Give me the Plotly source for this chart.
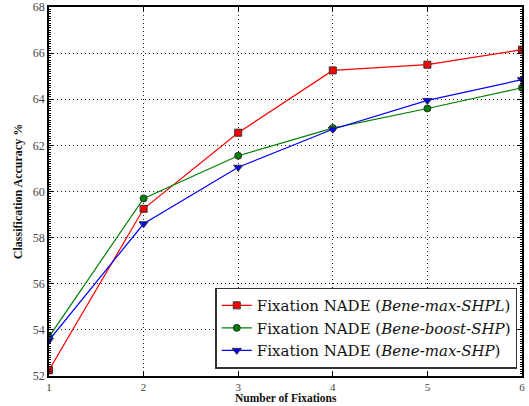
import plotly.graph_objects as go

fixations = [1, 2, 3, 4, 5, 6]
shpl = [52.25, 59.25, 62.55, 65.25, 65.5, 66.15]
boost_shp = [53.7, 59.7, 61.55, 62.75, 63.6, 64.5]
max_shp = [53.55, 58.6, 61.05, 62.7, 63.95, 64.85]

names = [
    "Fixation NADE (<i>Bene-max-SHPL</i>)",
    "Fixation NADE (<i>Bene-boost-SHP</i>)",
    "Fixation NADE (<i>Bene-max-SHP</i>)",
]
y_ticks = [52, 54, 56, 58, 60, 62, 64, 66, 68]

font_fam = "Liberation Serif, DejaVu Serif, serif"

fig = go.Figure()
fig.add_trace(go.Scatter(x=fixations, y=shpl, mode="lines+markers", name=names[0],
                         line=dict(color="#ff0000", width=1.2),
                         marker=dict(symbol="square", size=7, color="#ff0000",
                                     line=dict(color="#333333", width=1))))
fig.add_trace(go.Scatter(x=fixations, y=boost_shp, mode="lines+markers", name=names[1],
                         line=dict(color="#008000", width=1.2),
                         marker=dict(symbol="circle", size=7, color="#008000",
                                     line=dict(color="#333333", width=1))))
fig.add_trace(go.Scatter(x=fixations, y=max_shp, mode="lines+markers", name=names[2],
                         line=dict(color="#0000ff", width=1.2),
                         marker=dict(symbol="triangle-down", size=8, color="#0000ff",
                                     line=dict(color="#333333", width=1))))

fig.update_layout(
    width=529, height=406,
    margin=dict(l=49, r=7, t=7, b=30, autoexpand=False),
    paper_bgcolor="white", plot_bgcolor="white",
    font=dict(family=font_fam, color="#222222", size=11),
    showlegend=True,
    legend=dict(x=0.99, y=0.02, xanchor="right", yanchor="bottom",
                bgcolor="white", bordercolor="#333333", borderwidth=1.5,
                font=dict(size=15, color="#111111", family="DejaVu Serif, serif"),
                tracegroupgap=0, itemwidth=30),
    annotations=[dict(text="<b>Number of Fixations</b>", xref="paper", yref="paper",
                      x=0.5, y=0, xanchor="center", yanchor="top", yshift=-15,
                      borderpad=0,
                      showarrow=False, font=dict(size=11.5, color="#111111", family=font_fam))],
)
fig.update_xaxes(range=[0.9999, 6.0001], tickmode="array", tickvals=fixations,
                 ticktext=[str(v) for v in fixations], automargin=False,
                 showgrid=True, gridcolor="#222222", griddash="1px,3px", gridwidth=1,
                 showline=True, linecolor="#000000", linewidth=1.5, mirror="ticks",
                 ticks="inside", ticklen=4, tickcolor="#000000",
                 tickfont=dict(size=11, color="#444444"),
                 zeroline=False)
fig.update_yaxes(range=[52, 68], tickmode="array", tickvals=y_ticks,
                 ticktext=[str(v) for v in y_ticks], automargin=False,
                 showgrid=True, gridcolor="#222222", griddash="1px,3px", gridwidth=1,
                 showline=True, linecolor="#000000", linewidth=1.5, mirror="ticks",
                 ticks="inside", ticklen=4, tickcolor="#000000",
                 tickfont=dict(size=12, color="#444444"),
                 minor=dict(ticks="inside", ticklen=2, dtick=0.1, tickcolor="#000000", showgrid=False),
                 title=dict(text="<b>Classification Accuracy %</b>", font=dict(size=12, color="#111111"), standoff=8),
                 zeroline=False)

fig.write_html("out.html", config={"displayModeBar": False},
               post_script="document.body.style.margin='0';document.body.style.overflow='hidden';")
